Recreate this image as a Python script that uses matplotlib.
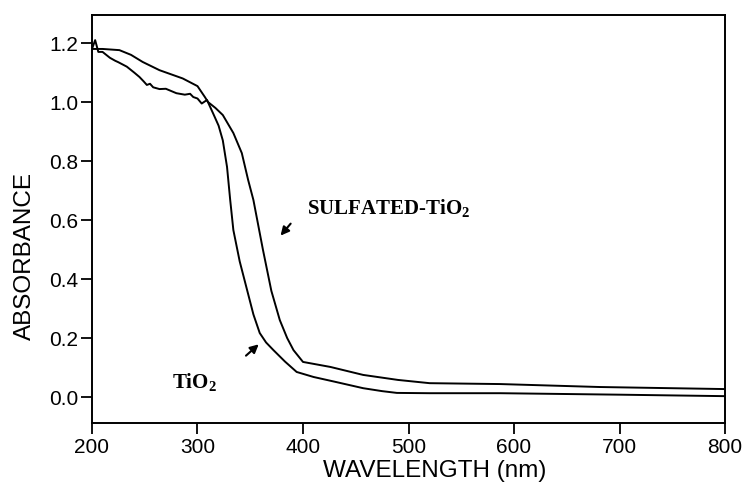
import numpy as np
import matplotlib.pyplot as plt

# 스펙트럼 데이터
sulf_wl = [200, 210, 226, 237, 248, 264, 286, 300, 307, 310, 317, 324, 334,
           342, 348, 353, 362, 370, 378, 385, 391, 400, 426, 457, 490, 520,
           587, 681, 800]
sulf_abs = [1.18, 1.18, 1.176, 1.16, 1.136, 1.108, 1.08, 1.054, 1.017, 1.0,
            0.98, 0.956, 0.895, 0.827, 0.736, 0.668, 0.50, 0.36, 0.261, 0.20,
            0.159, 0.119, 0.102, 0.075, 0.058, 0.047, 0.044, 0.034, 0.027]

tio2_wl = [200, 203, 206, 210, 217, 222, 225, 233, 240, 245, 249, 252, 255,
           258, 264, 270, 280, 288, 293, 296, 300, 304, 309, 315, 320, 324,
           328, 331, 334, 340, 347, 353, 359, 365, 372, 383, 394, 410, 430,
           457, 475, 489, 520, 587, 700, 800]
tio2_abs = [1.18, 1.21, 1.17, 1.17, 1.15, 1.14, 1.135, 1.12, 1.10, 1.085,
            1.07, 1.058, 1.062, 1.05, 1.044, 1.045, 1.03, 1.025, 1.028, 1.017,
            1.012, 0.995, 1.007, 0.96, 0.92, 0.87, 0.78, 0.668, 0.566, 0.46,
            0.363, 0.28, 0.217, 0.185, 0.159, 0.12, 0.085, 0.068, 0.052, 0.03,
            0.02, 0.014, 0.013, 0.013, 0.008, 0.003]

xticks = [200, 300, 400, 500, 600, 700, 800]
yticks = [0.0, 0.2, 0.4, 0.6, 0.8, 1.0, 1.2]

plt.rcParams['font.family'] = ['Liberation Sans', 'DejaVu Sans']

fig = plt.figure(figsize=(7.43, 4.88), dpi=100)
ax = fig.add_axes([0.1238, 0.1332, 0.852, 0.836])

ax.plot(sulf_wl, sulf_abs, color='black', lw=1.4)
ax.plot(tio2_wl, tio2_abs, color='black', lw=1.4)

ax.set_xlim(200, 800)
ax.set_ylim(-0.088, 1.295)
ax.set_xticks(xticks)
ax.set_yticks(yticks)
ax.set_yticklabels(['{:.1f}'.format(v) for v in yticks])
ax.tick_params(direction='out', length=8, width=1.3, labelsize=15,
               top=False, right=False)
ax.tick_params(axis='x', pad=3)
ax.tick_params(axis='y', pad=2)
for s in ax.spines.values():
    s.set_linewidth(1.4)

ax.set_xlabel('WAVELENGTH (nm)', fontsize=17.5)
ax.set_ylabel('ABSORBANCE', fontsize=17.5)
ax.xaxis.set_label_coords(0.542, -0.09)
ax.yaxis.set_label_coords(-0.088, 0.409)

# 곡선 라벨과 화살표
ax.text(404, 0.64, 'SULFATED-TiO$_\\mathregular{2}$', family='Liberation Serif',
        fontweight='bold', fontsize=15, va='center', ha='left')
ax.annotate('', xy=(377, 0.54), xytext=(390, 0.595),
            arrowprops=dict(arrowstyle='-|>,head_length=0.5,head_width=0.25',
                            color='black', lw=1.5))
ax.text(276, 0.05, 'TiO$_\\mathregular{2}$', family='Liberation Serif',
        fontweight='bold', fontsize=15, va='center', ha='left')
ax.annotate('', xy=(360, 0.185), xytext=(344, 0.134),
            arrowprops=dict(arrowstyle='-|>,head_length=0.5,head_width=0.25',
                            color='black', lw=1.5))

plt.savefig('out.png', dpi=100)
